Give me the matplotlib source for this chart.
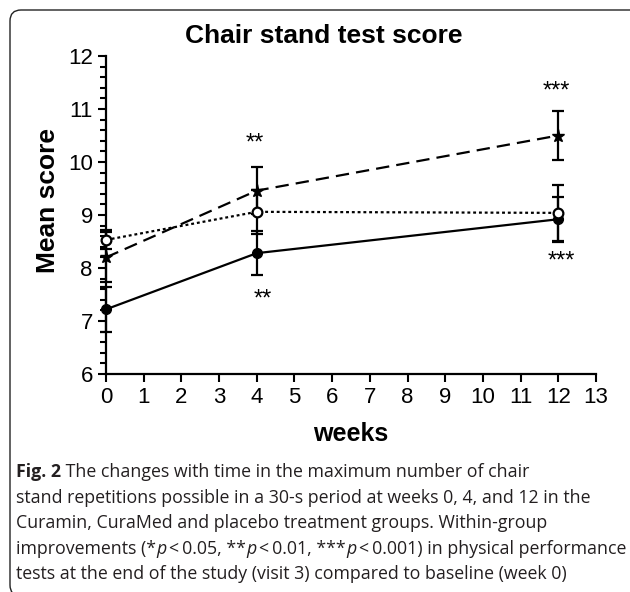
import matplotlib
matplotlib.use("Agg")
import matplotlib.pyplot as plt
from matplotlib.patches import FancyBboxPatch
from matplotlib.ticker import MultipleLocator

# --- data ---
weeks = [0, 4, 12]
solid_mean = [7.22, 8.28, 8.92]      # filled circles, solid line
solid_err = [0.43, 0.41, 0.42]
dashed_mean = [8.20, 9.46, 10.50]    # stars, dashed line
dashed_err = [0.47, 0.45, 0.47]
dotted_mean = [8.53, 9.06, 9.04]     # open circles, dotted line
dotted_err = [0.18, 0.41, 0.53]

sig_text = ["**", "**", "***", "***"]
sig_x = [3.95, 4.15, 11.95, 12.08]
sig_y = [10.35, 7.40, 11.33, 8.13]

TS = "\u2009"  # thin space around "<"
caption = [
    [("Fig. 2", "bold", "normal"), (" The changes with time in the maximum number of chair", "normal", "normal")],
    [("stand repetitions possible in a 30-s period at weeks 0, 4, and 12 in the", "normal", "normal")],
    [("Curamin, CuraMed and placebo treatment groups. Within-group", "normal", "normal")],
    [("improvements (*", "normal", "normal"), ("p", "normal", "italic"), (f"{TS}<{TS}0.05, **", "normal", "normal"),
     ("p", "normal", "italic"), (f"{TS}<{TS}0.01, ***", "normal", "normal"), ("p", "normal", "italic"),
     (f"{TS}<{TS}0.001) in physical performance", "normal", "normal")],
    [("tests at the end of the study (visit 3) compared to baseline (week 0)", "normal", "normal")],
]

W, H = 630, 592
fig = plt.figure(figsize=(W / 100, H / 100), dpi=100)
plt.rcParams["font.family"] = ["Liberation Sans", "DejaVu Sans"]

# rounded frame around figure + caption (right and bottom run off the image)
r = 11
fig.patches.append(FancyBboxPatch((10 / W, -4 / H), 640 / W, 586 / H,
                                  boxstyle=f"round,pad=0,rounding_size={r / W}",
                                  transform=fig.transFigure, fill=False, lw=1.0, ec="#222222",
                                  mutation_aspect=W / H))

ax = fig.add_axes([106 / W, 1 - 374 / H, 490 / W, 318 / H])
kw = dict(color="black", lw=1.6, capsize=4.5, elinewidth=1.6, capthick=1.6, clip_on=False, zorder=3)
ax.errorbar(weeks, solid_mean, yerr=solid_err, ls="-", marker="o", ms=7, mfc="black", **kw)
ax.errorbar(weeks, dashed_mean, yerr=dashed_err, ls=(0, (6, 3.2)), marker="*", ms=9.5, mfc="black", **kw)
ax.errorbar(weeks, dotted_mean, yerr=dotted_err, ls=(0, (1.3, 1.3)), marker="o", ms=7, mfc="white",
            mew=1.6, **kw)

for t, x, y in zip(sig_text, sig_x, sig_y):
    ax.text(x, y, t, ha="center", va="center", fontsize=17)

ax.set_xlim(0, 13)
ax.set_ylim(6, 12)
ax.xaxis.set_major_locator(MultipleLocator(1))
ax.yaxis.set_major_locator(MultipleLocator(1))
ax.yaxis.set_minor_locator(MultipleLocator(0.2))
ax.tick_params(axis="both", which="major", labelsize=16, length=6, width=1.5, direction="out")
ax.tick_params(axis="y", which="minor", length=4, width=1.5)
for s in ["top", "right"]:
    ax.spines[s].set_visible(False)
for s in ["left", "bottom"]:
    ax.spines[s].set_linewidth(1.6)

fig.text(324 / W, 1 - 36 / H, "Chair stand test score", fontsize=19, fontweight="bold",
         ha="center", va="center")
ax.set_xlabel("weeks", fontsize=18, fontweight="bold", labelpad=10)
ax.set_ylabel("Mean score", fontsize=19, fontweight="bold")
ax.yaxis.set_label_coords(-0.094, 0.545)

# caption with mixed styles, size fitted so line 2 ends where it does in the source
renderer = fig.canvas.get_renderer()
inv = fig.transFigure.inverted()


def draw_line(x, y, runs, size):
    arts = []
    for s, wt, st in runs:
        t = fig.text(x, y, s, fontsize=size, family=["Open Sans", "DejaVu Sans"],
                     fontweight=wt, fontstyle=st, color="#231f20", va="center")
        bb = t.get_window_extent(renderer=renderer)
        x = inv.transform((bb.x1, 0))[0]
        arts.append(t)
    return x, arts


end, tmp = draw_line(16 / W, 0.5, caption[1], 13)
for t in tmp:
    t.remove()
size = 13 * (570 / W) / (end - 16 / W)

y0, dy = 472, 25.6
for i, runs in enumerate(caption):
    draw_line(16 / W, 1 - (y0 + i * dy) / H, runs, size)

fig.savefig("out.png", dpi=100)
